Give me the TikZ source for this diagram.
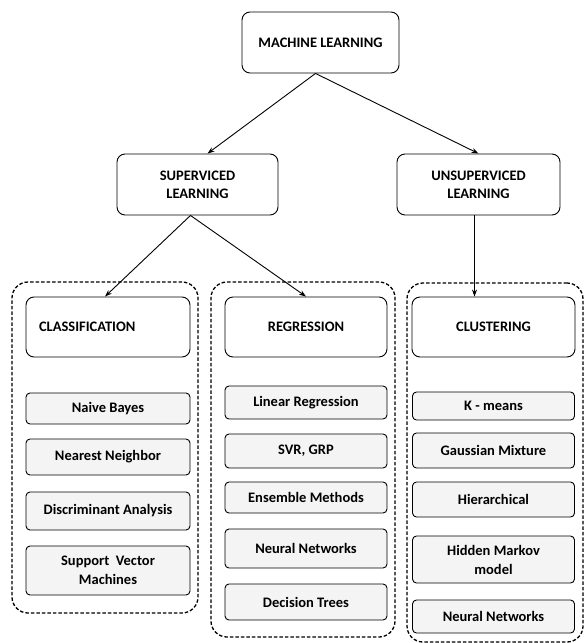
\documentclass[tikz,border=0pt]{standalone}
\usepackage{fontspec}
\setmainfont{Carlito}
\usetikzlibrary{arrows.meta, positioning}

\begin{document}
\begin{tikzpicture}[x=1pt, y=-1pt,
              head/.style={draw, line width=0.9pt, rounded corners=8pt, fill=white, minimum height=61pt, align=center, inner sep=2pt, font=\fontsize{14.5}{18}\selectfont\bfseries},
              item/.style={draw, line width=0.9pt, rounded corners=4pt, fill=gray!9, align=center, inner sep=2pt, font=\fontsize{14.5}{19}\selectfont\bfseries},
              group/.style={draw, line width=1.3pt, dash pattern=on 3.5pt off 2pt, rounded corners=16pt},
              arrow/.style={-{Stealth[length=7pt, width=5pt]}, line width=0.9pt}
            ]
            \useasboundingbox (0,0) rectangle (584,643);

            % Gruppen
            \node[group, minimum width=186pt, minimum height=331pt] (grpA) at (105,447.5) {};
            \node[group, minimum width=184pt, minimum height=355pt] (grpB) at (303,459.5) {};
            \node[group, minimum width=176pt, minimum height=359pt] (grpC) at (495,462.5) {};

            % Oberste Ebenen
            \node[head, minimum width=157pt] (ml) at (320.5,42.5) {MACHINE LEARNING};
            \node[head, minimum width=161pt] (sup) at (197.5,184.5) {SUPERVICED\\LEARNING};
            \node[head, minimum width=163pt] (uns) at (478.5,184.5) {UNSUPERVICED\\LEARNING};

            % Aufgaben
            \node[head, minimum height=60pt, text width=138pt, inner xsep=13pt, align=left] (cla) at (108,327) {CLASSIFICATION};
            \node[head, minimum height=60pt, minimum width=162pt] (reg) at (306,327) {REGRESSION};
            \node[head, minimum height=60pt, minimum width=163pt] (clu) at (493.5,327) {CLUSTERING};

            % Verfahren
            \node[item, minimum width=164pt, minimum height=31pt] (nb) at (108,408.5) {Naive Bayes};
            \node[item, minimum width=164pt, minimum height=36pt] (nn) at (108,457) {Nearest Neighbor};
            \node[item, minimum width=164pt, minimum height=38pt] (da) at (108,511) {Discriminant Analysis};
            \node[item, minimum width=164pt, minimum height=49pt] (svm) at (108,570.5) {Support\ \ Vector\\Machines};

            \node[item, minimum width=162pt, minimum height=33pt] (lr) at (306,402.5) {Linear Regression};
            \node[item, minimum width=162pt, minimum height=34pt] (svr) at (306,451) {SVR, GRP};
            \node[item, minimum width=162pt, minimum height=31pt] (ens) at (306,497.5) {Ensemble Methods};
            \node[item, minimum width=162pt, minimum height=39pt] (nnr) at (306,548.5) {Neural Networks};
            \node[item, minimum width=162pt, minimum height=36pt] (dt) at (306,602) {Decision Trees};

            \node[item, minimum width=162pt, minimum height=28pt] (km) at (493.5,406) {K - means};
            \node[item, minimum width=162pt, minimum height=35pt] (gm) at (493.5,450.5) {Gaussian Mixture};
            \node[item, minimum width=162pt, minimum height=35pt] (hi) at (493.5,499.5) {Hierarchical};
            \node[item, minimum width=162pt, minimum height=47pt] (hmm) at (493.5,559.5) {Hidden Markov\\model};
            \node[item, minimum width=162pt, minimum height=33pt] (nnc) at (493.5,616.5) {Neural Networks};

            % Pfeile
            \draw[arrow] ([xshift=-5pt]ml.south) -- ([xshift=10pt]sup.north);
            \draw[arrow] ([xshift=-5pt]ml.south) -- (uns.north);
            \draw[arrow] ([xshift=-7pt]sup.south) -- ([xshift=-3pt]cla.north);
            \draw[arrow] ([xshift=-7pt]sup.south) -- (reg.north);
            \draw[arrow] ([xshift=-4pt]uns.south) -- ([xshift=-4pt]uns.south |- clu.north);

            \end{tikzpicture}
\end{document}
